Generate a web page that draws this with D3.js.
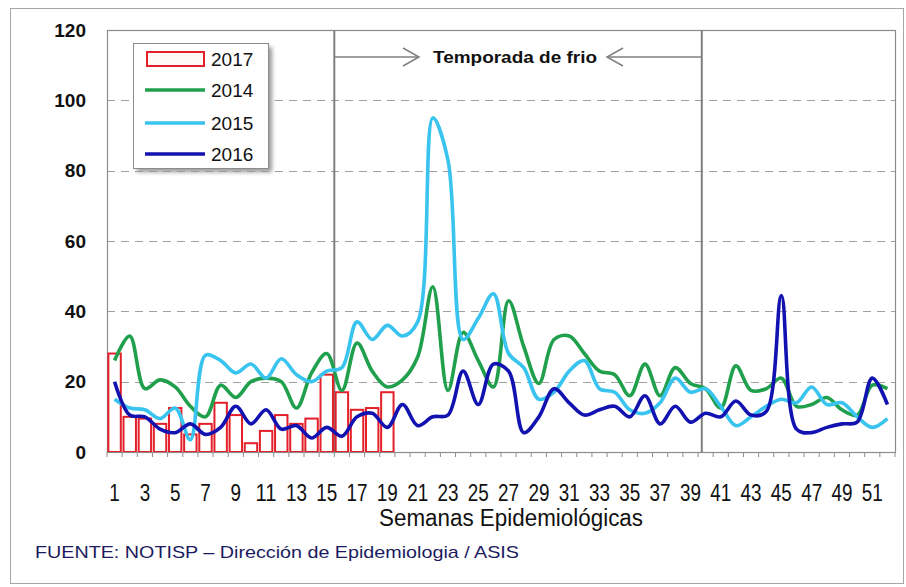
<!DOCTYPE html>
<html>
<head>
<meta charset="utf-8">
<script src="https://cdn.jsdelivr.net/npm/d3@7"></script>
<style>
  body { margin: 0; background: #fff; }
  svg { display: block; font-family: "Liberation Sans", Arial, sans-serif; }
</style>
</head>
<body>
<div id="chart"></div>
<script>
(function(){

        // epidemiological weeks (categories)
        const weeks = d3.range(1, 53);
        const weekTicks = [1,3,5,7,9,11,13,15,17,19,21,23,25,27,29,31,33,35,37,39,41,43,45,47,49,51];
        const yTicks = [0, 20, 40, 60, 80, 100, 120];

        // 2017 (bars, weeks 1-19)
        const cases2017 = [28, 10, 9.5, 8, 12.5, 5, 8, 14, 10.5, 2.5, 6, 10.5, 8, 9.5, 22, 17, 12, 12.5, 17];

        // 2014, 2015, 2016 (lines, weeks 1-52)
        const cases2014 = [26, 33, 18, 20.5, 18.5, 13, 10, 19, 15.5, 20, 21, 20, 12.5, 22.5, 28, 17.5, 31, 23, 18.5, 20.5,
                           27, 47, 17.5, 34, 26, 18.5, 43, 30, 19.5, 32, 33, 28, 23, 22, 16, 25, 16, 24, 19.5, 18,
                           12.5, 24.5, 17.5, 18, 21, 13, 13.5, 15.5, 12, 10.5, 19, 18];
        const cases2015 = [15, 12.5, 12, 9.5, 12.5, 3.5, 27.5, 26, 22.5, 25, 21, 26.5, 22, 20, 23, 24, 37, 32, 36, 33,
                           37, 95, 83, 32, 38, 45, 28, 24, 15, 17, 23, 26, 18, 17, 12, 11, 14, 21, 17, 18,
                           13, 7.5, 10, 13, 15, 14, 18.5, 13.5, 14, 10, 7, 9.5];
        const cases2016 = [20, 10.5, 10, 6.5, 5.5, 8, 5, 7, 13, 8, 12, 6.5, 7.5, 4, 7, 4.5, 10, 11, 7, 13.5,
                           7.5, 10, 10.5, 23, 13.5, 25, 23, 5.5, 10, 18, 14, 10.5, 12, 13, 10, 16, 8, 13, 8.5, 11,
                           10, 14.5, 10.5, 11.5, 44.5, 6.5, 5.5, 7, 8, 8.5, 21, 13.5];

        const lineSeries = [
            { name: "2014", values: cases2014, color: "#20a04c" },
            { name: "2015", values: cases2015, color: "#38c4ee" },
            { name: "2016", values: cases2016, color: "#1212b0" }
        ];

        // cold season limits, in week units (drawn between weeks)
        const coldSeason = [15.5, 39.75];
        const seasonLabel = "Temporada de frio";

        const width = 906, height = 587;
        const plot = { left: 107, right: 895, top: 30, bottom: 452 };

        const svg = d3.select("#chart")
            .append("svg")
            .attr("width", width)
            .attr("height", height);

        // outer frame
        svg.append("rect")
            .attr("x", 10.5).attr("y", 8.5)
            .attr("width", 893).attr("height", 575)
            .attr("fill", "#fff")
            .attr("stroke", "#a6a6a6");

        const x = d3.scaleBand()
            .domain(weeks)
            .range([plot.left, plot.right])
            .paddingInner(0.18)
            .paddingOuter(0.09);

        const y = d3.scaleLinear()
            .domain([0, 120])
            .range([plot.bottom, plot.top]);

        const cx = w => x(w) + x.bandwidth() / 2;
        // position for fractional week values (annotation lines)
        const weekX = w => plot.left + (w - 0.5) * x.step();

        // gridlines
        svg.append("g")
            .selectAll("line")
            .data(yTicks.filter(t => t > 0 && t < 120))
            .enter()
            .append("line")
            .attr("x1", plot.left).attr("x2", plot.right)
            .attr("y1", d => Math.round(y(d)) + 0.5)
            .attr("y2", d => Math.round(y(d)) + 0.5)
            .attr("stroke", "#a0a0a0")
            .attr("stroke-width", 1.2)
            .attr("stroke-dasharray", "8,6");

        // plot border
        svg.append("rect")
            .attr("x", plot.left + 0.5).attr("y", plot.top + 0.5)
            .attr("width", plot.right - plot.left)
            .attr("height", plot.bottom - plot.top)
            .attr("fill", "none")
            .attr("stroke", "#8c8c8c")
            .attr("stroke-width", 1.2);

        // cold season lines
        svg.append("g")
            .selectAll("line")
            .data(coldSeason)
            .enter()
            .append("line")
            .attr("x1", d => weekX(d)).attr("x2", d => weekX(d))
            .attr("y1", plot.top).attr("y2", plot.bottom)
            .attr("stroke", "#7f7f7f")
            .attr("stroke-width", 2);

        // 2017 bars
        svg.append("g")
            .selectAll("rect")
            .data(cases2017)
            .enter()
            .append("rect")
            .attr("x", (d, i) => x(weeks[i]))
            .attr("y", d => y(d))
            .attr("width", x.bandwidth())
            .attr("height", d => y(0) - y(d))
            .attr("fill", "#fff")
            .attr("stroke", "#e3202a")
            .attr("stroke-width", 2);

        // smoothed lines
        const line = d3.line()
            .x((d, i) => cx(weeks[i]))
            .y(d => y(d))
            .curve(d3.curveCatmullRom.alpha(0.5));

        svg.append("g")
            .selectAll("path")
            .data(lineSeries)
            .enter()
            .append("path")
            .attr("d", d => line(d.values))
            .attr("fill", "none")
            .attr("stroke", d => d.color)
            .attr("stroke-width", 3.6)
            .attr("stroke-linejoin", "round");

        // x axis: baseline + ticks between categories
        svg.append("line")
            .attr("x1", plot.left).attr("x2", plot.right)
            .attr("y1", plot.bottom + 0.5).attr("y2", plot.bottom + 0.5)
            .attr("stroke", "#8c8c8c")
            .attr("stroke-width", 1.2);

        svg.append("g")
            .selectAll("line")
            .data(d3.range(weeks.length + 1))
            .enter()
            .append("line")
            .attr("x1", k => plot.left + k * x.step())
            .attr("x2", k => plot.left + k * x.step())
            .attr("y1", plot.bottom).attr("y2", plot.bottom + 5)
            .attr("stroke", "#8c8c8c");

        const xAxis = svg.append("g")
            .attr("transform", `translate(0,${plot.bottom})`)
            .call(d3.axisBottom(x).tickValues(weekTicks).tickSize(0));
        xAxis.select(".domain").remove();
        // narrow digits, like the condensed font of the original
        xAxis.selectAll("text")
            .attr("y", 49)
            .attr("dy", null)
            .attr("fill", "#111")
            .attr("textLength", d => String(d).length * 10.5)
            .attr("lengthAdjust", "spacingAndGlyphs")
            .style("font-size", "24px");

        // y axis
        const yAxis = svg.append("g")
            .attr("transform", `translate(${plot.left},0)`)
            .call(d3.axisLeft(y).tickValues(yTicks).tickSize(0).tickPadding(21));
        yAxis.select(".domain").remove();
        yAxis.selectAll("text")
            .attr("fill", "#111")
            .style("font-size", "19px")
            .style("font-weight", "bold");

        // axis title
        svg.append("text")
            .attr("x", 511).attr("y", 526)
            .attr("text-anchor", "middle")
            .attr("fill", "#111")
            .attr("textLength", 264)
            .attr("lengthAdjust", "spacingAndGlyphs")
            .style("font-size", "23px")
            .text("Semanas Epidemiológicas");

        // cold season arrows and label
        const arrowY = 57;
        const ann = svg.append("g")
            .attr("stroke", "#808080")
            .attr("stroke-width", 1.5)
            .attr("fill", "none");
        const leftTip = 419, rightTip = 607;
        ann.append("line")
            .attr("x1", weekX(coldSeason[0])).attr("x2", leftTip)
            .attr("y1", arrowY).attr("y2", arrowY);
        ann.append("path")
            .attr("d", `M${leftTip - 16},${arrowY - 9}L${leftTip},${arrowY}L${leftTip - 16},${arrowY + 9}`);
        ann.append("line")
            .attr("x1", weekX(coldSeason[1])).attr("x2", rightTip)
            .attr("y1", arrowY).attr("y2", arrowY);
        ann.append("path")
            .attr("d", `M${rightTip + 16},${arrowY - 9}L${rightTip},${arrowY}L${rightTip + 16},${arrowY + 9}`);

        svg.append("text")
            .attr("x", 515).attr("y", arrowY + 6)
            .attr("text-anchor", "middle")
            .attr("fill", "#111")
            .attr("textLength", 164)
            .attr("lengthAdjust", "spacingAndGlyphs")
            .style("font-size", "17px")
            .style("font-weight", "bold")
            .text(seasonLabel);

        // legend
        const legend = svg.append("g");
        const defs = svg.append("defs");
        defs.append("filter").attr("id", "blur")
            .append("feGaussianBlur").attr("stdDeviation", 2);
        legend.append("rect")
            .attr("x", 137).attr("y", 47)
            .attr("width", 135).attr("height", 125)
            .attr("fill", "#9a9a9a")
            .attr("filter", "url(#blur)");
        legend.append("rect")
            .attr("x", 133.5).attr("y", 43.5)
            .attr("width", 135).attr("height", 125)
            .attr("fill", "#fff")
            .attr("stroke", "#8c8c8c");

        const legendItems = [{ name: "2017", type: "bar", color: "#e3202a" }]
            .concat(lineSeries.map(s => ({ name: s.name, type: "line", color: s.color })));
        const rowY = [59, 90, 123, 154];

        const rows = legend.selectAll(".item")
            .data(legendItems)
            .enter()
            .append("g")
            .attr("class", "item")
            .attr("transform", (d, i) => `translate(0,${rowY[i]})`);

        rows.filter(d => d.type === "bar")
            .append("rect")
            .attr("x", 147).attr("y", -7)
            .attr("width", 57).attr("height", 14)
            .attr("fill", "#fff8f6")
            .attr("stroke", d => d.color)
            .attr("stroke-width", 2);

        rows.filter(d => d.type === "line")
            .append("line")
            .attr("x1", 145).attr("x2", 205)
            .attr("y1", 0).attr("y2", 0)
            .attr("stroke", d => d.color)
            .attr("stroke-width", 3.6);

        rows.append("text")
            .attr("x", 211).attr("y", 0)
            .attr("dy", "0.35em")
            .attr("fill", "#111")
            .style("font-size", "19px")
            .text(d => d.name);

        // source note
        svg.append("text")
            .attr("x", 35).attr("y", 558)
            .attr("fill", "#1b1b5e")
            .attr("textLength", 484)
            .attr("lengthAdjust", "spacingAndGlyphs")
            .style("font-size", "17px")
            .text("FUENTE: NOTISP – Dirección de Epidemiologia / ASIS");

})();
</script>
</body>
</html>
